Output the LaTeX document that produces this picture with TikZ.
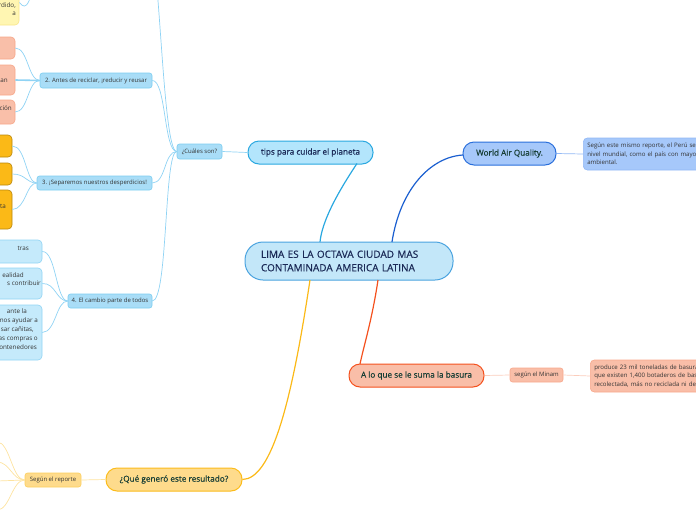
\documentclass[tikz,border=0pt]{standalone}
\usepackage{fontspec}
\setmainfont{Open Sans}
\newfontfamily\semib{Open Sans}[FakeBold=0.6]
\definecolor{lconn}{HTML}{8FD3F4}
\definecolor{tipsfill}{HTML}{B3E5FC}
\definecolor{tipsdraw}{HTML}{2AA8E0}
\definecolor{cenfill}{HTML}{C3E7F9}
\definecolor{cendraw}{HTML}{4AA3DF}
\definecolor{smfill}{HTML}{A9DDF7}
\definecolor{smdraw}{HTML}{7CCDF0}
\definecolor{bfill}{HTML}{C5EAFB}
\definecolor{bdraw}{HTML}{90D4F4}
\definecolor{wfill}{HTML}{A6C8FA}
\definecolor{wdraw}{HTML}{2A6FDB}
\definecolor{wconn}{HTML}{1B5FD0}
\definecolor{wcdraw}{HTML}{92B8F5}
\definecolor{afill}{HTML}{F9BEA8}
\definecolor{adraw}{HTML}{F4511E}
\definecolor{mdraw}{HTML}{F8A88C}
\definecolor{mconn}{HTML}{FBCDBC}
\definecolor{qfill}{HTML}{FEDB8C}
\definecolor{qdraw}{HTML}{FBBC1C}
\definecolor{qconn}{HTML}{FBB917}
\definecolor{rdraw}{HTML}{FCCF5C}
\definecolor{rconn}{HTML}{FDE3A0}
\definecolor{ofill}{HTML}{FBB917}
\definecolor{odraw}{HTML}{B8860B}
\definecolor{yfill}{HTML}{FFF6B2}
\definecolor{ydraw}{HTML}{F9E58A}
\definecolor{sfill}{HTML}{F9BFA9}
\definecolor{sdraw}{HTML}{F7A689}
\definecolor{navy}{HTML}{1B2A57}
\definecolor{dgreen}{HTML}{173E35}
\definecolor{smtext}{HTML}{333333}
\tikzset{
  mainbox/.style={draw, line width=1pt, rounded corners=11pt, inner sep=0pt,
    font=\semib\fontsize{8.2}{10}\selectfont, align=center},
  smallbox/.style={draw, line width=0.6pt, rounded corners=2.5pt, inner sep=0pt,
    font=\fontsize{6}{7}\selectfont, text=smtext, align=center},
  leafbox/.style={draw, line width=0.6pt, rounded corners=4pt, inner sep=0pt},
  leaftext/.style={inner sep=0pt, anchor=base east, font=\fontsize{6.3}{7}\selectfont, text=smtext},
  childbox/.style={draw, line width=0.6pt, rounded corners=4pt, inner xsep=4pt, inner ysep=0pt,
    anchor=west, text width=200pt, align=left, minimum height=32pt,
    font=\fontsize{6.1}{8.6}\selectfont, text=smtext},
  thinconn/.style={line width=0.7pt},
  mainconn/.style={line width=1.2pt}
}
\begin{document}
\begin{tikzpicture}[x=1pt,y=-1pt]
\useasboundingbox (0,0) rectangle (696,520);
\clip (0,0) rectangle (696,520);

% coordinates for free ends
\coordinate (top1) at (148,-60);
\coordinate (topy) at (40,-40);
\coordinate (r1) at (-3,442);
\coordinate (r2) at (-3,462);
\coordinate (r3) at (-3,481);
\coordinate (r4) at (-3,510);

% left leaf boxes
\node[leafbox, fill=yfill, draw=ydraw, minimum width=49pt, minimum height=45pt] (y1) at (-5.5,2.5) {};
\node[leaftext] (y1a) at (16,7) {rdido,};
\node[leaftext] (y1b) at (16,15) {a};

\node[leafbox, fill=sfill, draw=sdraw, minimum width=35pt, minimum height=22pt] (s1) at (-2.5,48) {};
\node[leafbox, fill=sfill, draw=sdraw, minimum width=35pt, minimum height=30pt] (s2) at (-2.5,80) {};
\node[leafbox, fill=sfill, draw=sdraw, minimum width=35pt, minimum height=24pt] (s3) at (-2.5,112) {};
\node[leaftext] (s2t) at (8,82) {an};
\node[leaftext] (s3t) at (12,110) {ción};

\node[leafbox, fill=ofill, draw=odraw, minimum width=32pt, minimum height=22pt] (o1) at (-4,146) {};
\node[leafbox, fill=ofill, draw=odraw, minimum width=32pt, minimum height=22pt] (o2) at (-4,174) {};
\node[leafbox, fill=ofill, draw=odraw, minimum width=32pt, minimum height=39pt] (o3) at (-4,209.5) {};
\node[leaftext] (o3t) at (6,208) {ta};

\node[leafbox, fill=bfill, draw=bdraw, minimum width=62pt, minimum height=23pt] (b1) at (11,251.5) {};
\node[leafbox, fill=bfill, draw=bdraw, minimum width=62pt, minimum height=31pt] (b2) at (11,283.5) {};
\node[leafbox, fill=bfill, draw=bdraw, minimum width=62pt, minimum height=55pt] (b3) at (11,332.5) {};
\node[leaftext] (b1t) at (29,250) {tras};
\node[leaftext] (b2a) at (24,277) {ealidad};
\node[leaftext] (b2b) at (41,285.5) {s contribuir};
\node[leaftext] (b3a) at (27,313) {ante la};
\node[leaftext] (b3b) at (38,322) {mos ayudar a};
\node[leaftext] (b3c) at (34,331) {sar cañitas,};
\node[leaftext] (b3d) at (38,340) {as compras o};
\node[leaftext] (b3e) at (37,349) {contenedores};

% second-level blue nodes
\node[smallbox, fill=smfill, draw=smdraw, minimum width=112pt, minimum height=15pt] (n2) at (96,80.5) {2. Antes de reciclar, ¡reducir y reusar};
\node[smallbox, fill=smfill, draw=smdraw, minimum width=115pt, minimum height=14pt] (n3) at (94.5,183) {3. ¡Separemos nuestros desperdicios!};
\node[smallbox, fill=smfill, draw=smdraw, minimum width=84pt, minimum height=14pt] (n4) at (110,301) {4. El cambio parte de todos};
\node[smallbox, fill=smfill, draw=smdraw, minimum width=45pt, minimum height=15pt] (cu) at (199.5,151.5) {¿Cuáles son?};

% main nodes
\node[mainbox, fill=tipsfill, draw=tipsdraw, text=navy, minimum width=125pt, minimum height=23pt] (tips) at (310.5,152.5) {tips para cuidar el planeta};
\node[mainbox, fill=cenfill, draw=cendraw, text=navy, rounded corners=18pt, minimum width=208pt, minimum height=38pt,
  font=\semib\fontsize{10}{13.5}\selectfont, align=left, text width=176pt] (cen) at (349,261) {LIMA ES LA OCTAVA CIUDAD MAS\\CONTAMINADA AMERICA LATINA};
\node[mainbox, fill=wfill, draw=wdraw, text=dgreen, minimum width=93pt, minimum height=23pt] (world) at (509.5,153.5) {World Air Quality.};
\node[mainbox, fill=afill, draw=adraw, text=dgreen, minimum width=135pt, minimum height=23pt] (anode) at (416.5,375.5) {A lo que se le suma la basura};
\node[mainbox, fill=qfill, draw=qdraw, text=dgreen, minimum width=136pt, minimum height=23pt] (que) at (174,479.5) {¿Qué generó este resultado?};

% right side children
\node[childbox, fill=wfill, draw=wcdraw] (wc) at (583,154) {Según este mismo reporte, el Perú se ubica\\nivel mundial, como el país con mayor grado\\ambiental.};
\node[smallbox, fill=afill, draw=mdraw, minimum width=53pt, minimum height=14pt] (minam) at (536.5,375) {según el Minam};
\node[childbox, fill=afill, draw=mdraw] (mc) at (590,376) {produce 23 mil toneladas de basura al día\\que existen 1,400 botaderos de basura\\recolectada, más no reciclada ni debidamente};
\node[smallbox, fill=qfill, draw=rdraw, minimum width=56pt, minimum height=14pt] (rep) at (53,480) {Según el reporte};

% connectors: left leaves
\begin{scope}[thinconn]
\draw[draw=lconn] (y1.east) .. controls (27,12) and (30,4) .. (topy);
\draw[draw=lconn] (s1.east) .. controls (28,48) and (28,80) .. (n2.west);
\draw[draw=lconn, line width=1.6pt] (s2.east) -- (n2.west);
\draw[draw=lconn] (s3.east) .. controls (28,112) and (28,80) .. (n2.west);
\draw[draw=lconn] (o1.east) .. controls (26,146) and (26,183) .. (n3.west);
\draw[draw=lconn] (o2.east) .. controls (26,174) and (26,183) .. (n3.west);
\draw[draw=lconn] (o3.east) .. controls (26,209) and (26,183) .. (n3.west);
\draw[draw=lconn] (b1.east) .. controls (56,251) and (56,301) .. (n4.west);
\draw[draw=lconn] (b2.east) .. controls (56,283) and (56,301) .. (n4.west);
\draw[draw=lconn] (b3.east) .. controls (56,332) and (56,301) .. (n4.west);
\draw[draw=lconn] (n2.east) .. controls (166,80) and (164,151.5) .. (cu.west);
\draw[draw=lconn] (n3.east) .. controls (166,183) and (164,151.5) .. (cu.west);
\draw[draw=lconn] (n4.east) .. controls (168,301) and (164,151.5) .. (cu.west);
\draw[draw=lconn] (top1) .. controls (160,-60) and (162,151.5) .. (cu.west);
\draw[draw=lconn] (cu.east) -- (tips.west);
\end{scope}

% main connectors
\draw[mainconn, draw=tipsdraw] (357,163.5) .. controls (336,195) and (322,222) .. (320,242);
\draw[mainconn, draw=wconn] (392,242) .. controls (400,190) and (430,157) .. (463,155);
\draw[mainconn, draw=adraw] (378,280) .. controls (372,320) and (364,345) .. (360,364);
\draw[mainconn, draw=qconn] (310,280) .. controls (292,400) and (272,479) .. (que.east);

% right connectors
\draw[thinconn, draw=wcdraw] (world.east) -- (wc.west);
\draw[thinconn, draw=mconn] (anode.east) -- (minam.west);
\draw[thinconn, draw=mconn] (minam.east) -- (mc.west);
\draw[thinconn, draw=rconn] (rep.east) -- (que.west);

% fan of "Según el reporte"
\draw[thinconn, draw=rconn] (rep.west) .. controls (12,480) and (10,442) .. (r1);
\draw[thinconn, draw=rconn] (rep.west) .. controls (12,480) and (10,462) .. (r2);
\draw[thinconn, draw=rconn] (rep.west) -- (r3);
\draw[thinconn, draw=rconn] (rep.west) .. controls (12,480) and (10,510) .. (r4);
\end{tikzpicture}
\end{document}
